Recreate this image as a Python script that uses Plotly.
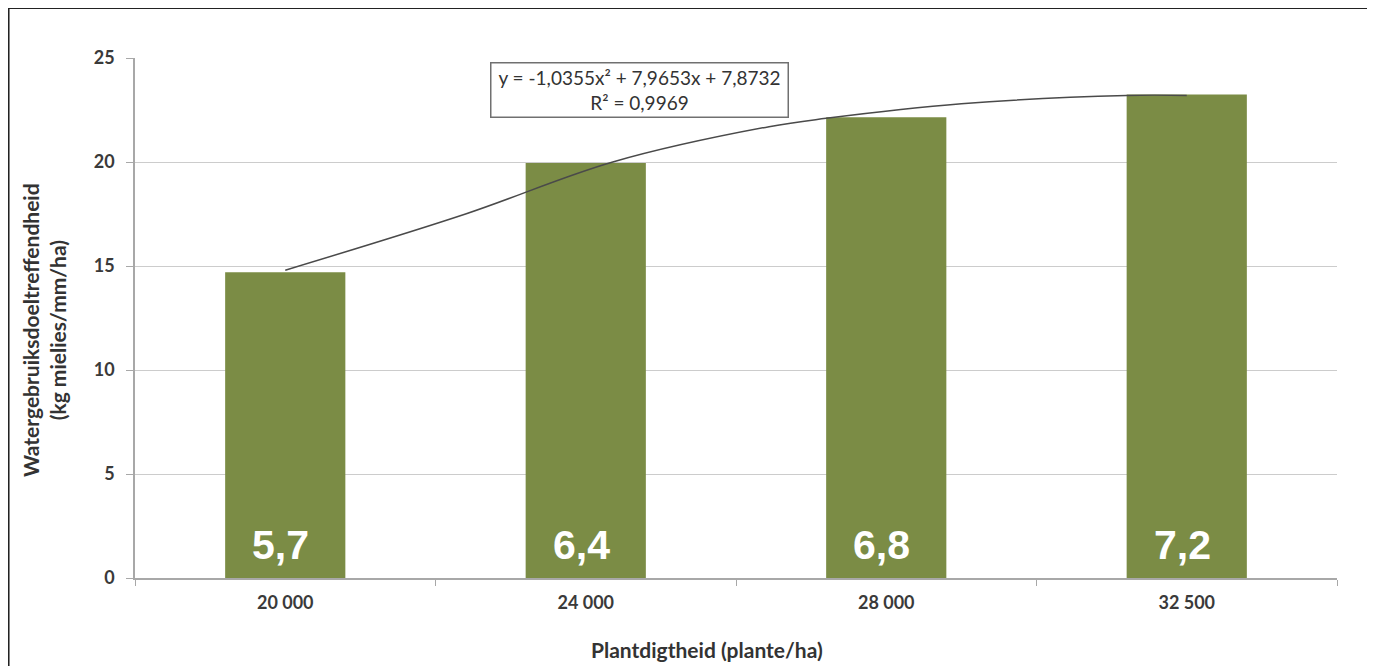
import plotly.graph_objects as go

# Data
categories = ["20 000", "24 000", "28 000", "32 500"]
efficiency = [14.7, 19.95, 22.15, 23.25]
bar_labels = ["5,7", "6,4", "6,8", "7,2"]

# trend line as traced in the picture (x in category units, 1 = first bar)
trend_x = [1.0, 1.6, 2.09, 2.61, 2.8, 3.25, 3.8, 4.0]
trend_y = [14.8, 17.5, 20.0, 21.7, 22.1, 22.8, 23.2, 23.2]

equation = "y = -1,0355x² + 7,9653x + 7,8732<br>R² = 0,9969"

xpos = list(range(1, len(categories) + 1))
text_col = "#3a3a3a"

fig = go.Figure()
fig.add_trace(go.Bar(x=xpos, y=efficiency, width=0.4, marker_color="#7b8c45",
                     marker_line_width=0, showlegend=False))
fig.add_trace(go.Scatter(x=trend_x, y=trend_y, mode="lines",
                         line=dict(color="#4a4a4a", width=1.5, shape="spline"),
                         showlegend=False))

# white labels near the base of each bar
for x, lab in zip(xpos, bar_labels):
    fig.add_annotation(x=x - 0.015, y=1.6, text=lab, showarrow=False,
                       font=dict(family="Liberation Sans", size=41, color="white", weight="bold"))

fig.add_annotation(x=2.18, y=23.46, text=equation, showarrow=False,
                   font=dict(family="Lato", size=19, color="#333333"),
                   bordercolor="#707070", borderwidth=1.5, bgcolor="white",
                   width=294, height=51, align="center")

fig.add_annotation(xref="paper", yref="paper", x=-0.0757, y=0.477, textangle=-90,
                   xanchor="center", yanchor="middle",
                   text="<b>Watergebruiksdoeltreffendheid<br>(kg mielies/mm/ha)</b>",
                   showarrow=False, font=dict(family="Lato", size=21, color="#333333"))
fig.add_annotation(xref="paper", yref="paper", x=0.476, y=-0.137,
                   xanchor="center", yanchor="middle",
                   text="<b>Plantdigtheid (plante/ha)</b>",
                   showarrow=False, font=dict(family="Lato", size=21, color="#333333"))

# outer frame (open at the bottom, where the picture is cut off)
frame = dict(color="#222222", width=2)
fig.add_shape(type="line", xref="paper", yref="paper", x0=-0.1052, x1=1.0266, y0=1.096, y1=1.096, line=frame)
fig.add_shape(type="line", xref="paper", yref="paper", x0=-0.1052, x1=-0.1052, y0=-0.17, y1=1.096, line=frame)
fig.add_shape(type="line", xref="paper", yref="paper", x0=1.0266, x1=1.0266, y0=-0.17, y1=1.096, line=frame)

# page body adds 8px offset, so margins are reduced by that amount
fig.update_layout(
    width=1367, height=658,
    margin=dict(l=127, r=38, t=50, b=88),
    plot_bgcolor="white", paper_bgcolor="white",
    font=dict(family="Lato", color=text_col),
    xaxis=dict(range=[0.5, 4.5], tickvals=xpos, ticktext=categories, ticks="",
               showgrid=False, zeroline=False, showline=True, linecolor="#a8a8a8",
               linewidth=1.5, tickfont=dict(size=18, weight="bold"),
               ticklabelstandoff=8,
               minor=dict(ticks="outside", tick0=0.5, dtick=1, ticklen=6,
                          tickcolor="#a8a8a8", showgrid=False)),
    yaxis=dict(range=[0, 25], dtick=5, ticks="outside", ticklen=7, tickcolor="#a8a8a8",
               showgrid=True, gridcolor="#cccccc", gridwidth=1.2, zeroline=False,
               showline=True, linecolor="#a8a8a8", linewidth=1.5,
               ticklabelstandoff=8, tickfont=dict(size=18, weight="bold")),
)

fig.write_html("out.html")
